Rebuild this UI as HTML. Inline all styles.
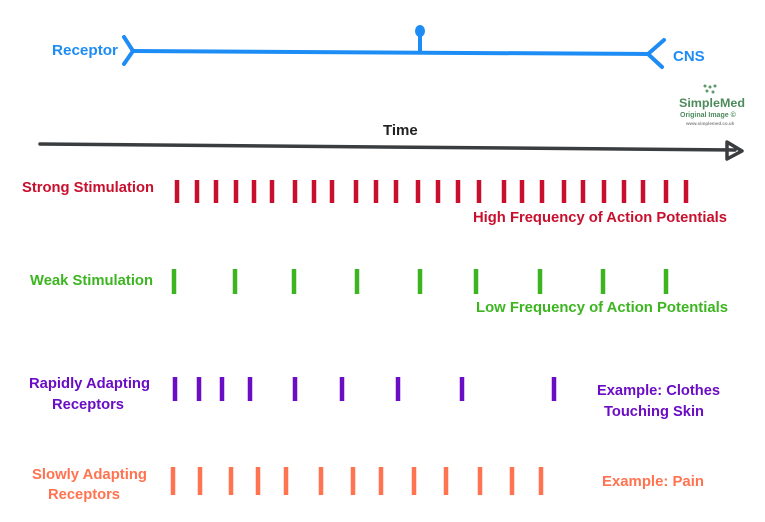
<!DOCTYPE html>
<html><head><style>
body{margin:0;background:#fff;}
svg text{font-family:"Liberation Sans",sans-serif;font-weight:bold;}
</style></head><body>
<svg width="765" height="517" viewBox="0 0 765 517" xmlns="http://www.w3.org/2000/svg">
<g stroke="#1e8cf5" stroke-width="4" fill="none" stroke-linecap="round">
<line x1="133" y1="51" x2="648" y2="54"/>
<polyline points="124,37 133,51 124,64"/>
<polyline points="664,40 648,54 662,67"/>
<line x1="420" y1="32" x2="420" y2="52"/>
</g>
<ellipse cx="420" cy="31" rx="5" ry="6" fill="#1e8cf5"/>
<text x="52" y="55" font-size="15" fill="#1e8cf5" textLength="66" lengthAdjust="spacingAndGlyphs">Receptor</text>
<text x="673" y="61" font-size="15" fill="#1e8cf5">CNS</text>
<g fill="#5a9a6a"><circle cx="705" cy="86" r="1.5"/><circle cx="710" cy="87" r="1.5"/><circle cx="715" cy="86" r="1.5"/><circle cx="707" cy="91" r="1.5"/><circle cx="713" cy="92" r="1.5"/></g>
<text x="679" y="107" font-size="12" fill="#4d8a5c" textLength="66" lengthAdjust="spacingAndGlyphs">SimpleMed</text>
<text x="680" y="117" font-size="7" fill="#4d8a5c">Original Image ©</text>
<text x="686" y="125" font-size="4.5" fill="#888" font-weight="normal">www.simplemed.co.uk</text>
<text x="383" y="135" font-size="15" fill="#222">Time</text>
<line x1="40" y1="144" x2="735" y2="150" stroke="#3a3d40" stroke-width="3.5" stroke-linecap="round"/>
<polygon points="727,142 742,151 727,159" fill="none" stroke="#3a3d40" stroke-width="3.5" stroke-linejoin="round"/>
<text x="22" y="192" font-size="15" fill="#c8102e" textLength="132" lengthAdjust="spacingAndGlyphs">Strong Stimulation</text>
<text x="473" y="222" font-size="15" fill="#c8102e" textLength="254" lengthAdjust="spacingAndGlyphs">High Frequency of Action Potentials</text>
<text x="30" y="285" font-size="15" fill="#3cb521" textLength="123" lengthAdjust="spacingAndGlyphs">Weak Stimulation</text>
<text x="476" y="312" font-size="15" fill="#3cb521" textLength="252" lengthAdjust="spacingAndGlyphs">Low Frequency of Action Potentials</text>
<text x="29" y="388" font-size="15" fill="#6a0dc4" textLength="121" lengthAdjust="spacingAndGlyphs">Rapidly Adapting</text>
<text x="52" y="409" font-size="15" fill="#6a0dc4" textLength="72" lengthAdjust="spacingAndGlyphs">Receptors</text>
<text x="597" y="395" font-size="15" fill="#6a0dc4" textLength="123" lengthAdjust="spacingAndGlyphs">Example: Clothes</text>
<text x="604" y="416" font-size="15" fill="#6a0dc4" textLength="100" lengthAdjust="spacingAndGlyphs">Touching Skin</text>
<text x="32" y="479" font-size="15" fill="#ff7350" textLength="115" lengthAdjust="spacingAndGlyphs">Slowly Adapting</text>
<text x="48" y="499" font-size="15" fill="#ff7350" textLength="72" lengthAdjust="spacingAndGlyphs">Receptors</text>
<text x="602" y="486" font-size="15" fill="#ff7350" textLength="102" lengthAdjust="spacingAndGlyphs">Example: Pain</text>
<g stroke="#c8102e" stroke-width="4.5">
<path d="M177 180v23M197 180v23M216 180v23M236 180v23M254 180v23M272 180v23M295 180v23M314 180v23M332 180v23M356 180v23M376 180v23M396 180v23M418 180v23M438 180v23M458 180v23M479 180v23M504 180v23M522 180v23M542 180v23M564 180v23M583 180v23M604 180v23M624 180v23M643 180v23M666 180v23M686 180v23"/>
</g>
<g stroke="#3cb521" stroke-width="4.5">
<path d="M174 269v25M235 269v25M294 269v25M357 269v25M420 269v25M476 269v25M540 269v25M603 269v25M666 269v25"/>
</g>
<g stroke="#6a0dc4" stroke-width="4.5">
<path d="M175 377v24M199 377v24M222 377v24M250 377v24M295 377v24M342 377v24M398 377v24M462 377v24M554 377v24"/>
</g>
<g stroke="#ff7350" stroke-width="4.5">
<path d="M173 467v28M200 467v28M231 467v28M258 467v28M286 467v28M321 467v28M353 467v28M381 467v28M414 467v28M446 467v28M480 467v28M512 467v28M541 467v28"/>
</g>
</svg>
</body></html>
